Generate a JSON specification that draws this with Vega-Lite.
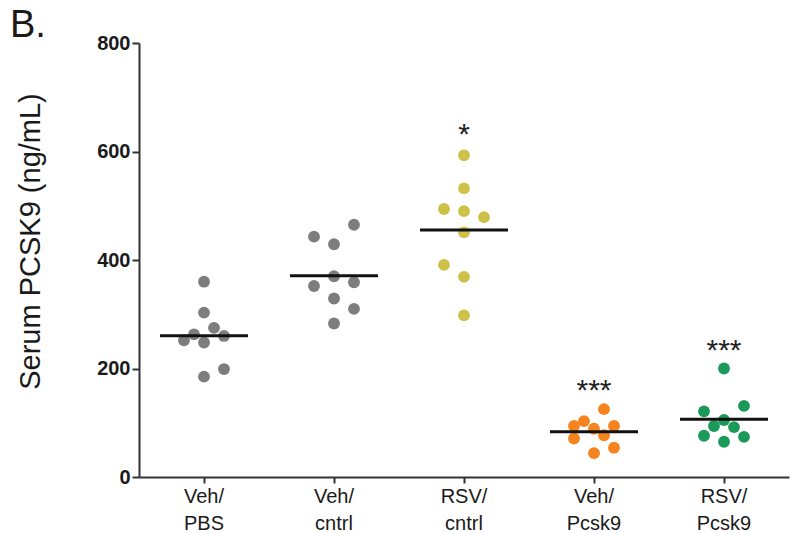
{
  "$schema": "https://vega.github.io/schema/vega-lite/v6.json",
  "width": 650,
  "height": 434,
  "autosize": {"type": "none"},
  "padding": {"left": 139, "top": 43, "right": 11, "bottom": 56},
  "background": "white",
  "config": {"view": {"stroke": null}, "font": "Liberation Sans"},
  "title": {"text": "B.", "anchor": "start", "frame": "group", "fontSize": 38, "fontWeight": "normal", "font": "Liberation Sans", "color": "#1a1a1a", "baseline": "alphabetic", "dx": -129, "dy": 42, "offset": 0},
  "datasets": {
    "pts": [
      {"g": "Veh/ PBS", "v": 360, "j": 0},
      {"g": "Veh/ PBS", "v": 303, "j": 0},
      {"g": "Veh/ PBS", "v": 275, "j": 1},
      {"g": "Veh/ PBS", "v": 263, "j": -1},
      {"g": "Veh/ PBS", "v": 260, "j": 2},
      {"g": "Veh/ PBS", "v": 252, "j": -2},
      {"g": "Veh/ PBS", "v": 248, "j": 0},
      {"g": "Veh/ PBS", "v": 199, "j": 2},
      {"g": "Veh/ PBS", "v": 185, "j": 0},
      {"g": "Veh/ cntrl", "v": 465, "j": 2},
      {"g": "Veh/ cntrl", "v": 443, "j": -2},
      {"g": "Veh/ cntrl", "v": 429, "j": 0},
      {"g": "Veh/ cntrl", "v": 370, "j": 0},
      {"g": "Veh/ cntrl", "v": 352, "j": -2},
      {"g": "Veh/ cntrl", "v": 359, "j": 2},
      {"g": "Veh/ cntrl", "v": 329, "j": 0},
      {"g": "Veh/ cntrl", "v": 310, "j": 2},
      {"g": "Veh/ cntrl", "v": 283, "j": 0},
      {"g": "RSV/ cntrl", "v": 593, "j": 0},
      {"g": "RSV/ cntrl", "v": 532, "j": 0},
      {"g": "RSV/ cntrl", "v": 494, "j": -2},
      {"g": "RSV/ cntrl", "v": 490, "j": 0},
      {"g": "RSV/ cntrl", "v": 479, "j": 2},
      {"g": "RSV/ cntrl", "v": 451, "j": 0},
      {"g": "RSV/ cntrl", "v": 391, "j": -2},
      {"g": "RSV/ cntrl", "v": 369, "j": 0},
      {"g": "RSV/ cntrl", "v": 298, "j": 0},
      {"g": "Veh/ Pcsk9", "v": 125, "j": 1},
      {"g": "Veh/ Pcsk9", "v": 103, "j": -1},
      {"g": "Veh/ Pcsk9", "v": 94, "j": -2},
      {"g": "Veh/ Pcsk9", "v": 89, "j": 0},
      {"g": "Veh/ Pcsk9", "v": 94, "j": 2},
      {"g": "Veh/ Pcsk9", "v": 77, "j": 1},
      {"g": "Veh/ Pcsk9", "v": 71, "j": -2},
      {"g": "Veh/ Pcsk9", "v": 54, "j": 2},
      {"g": "Veh/ Pcsk9", "v": 44, "j": 0},
      {"g": "RSV/ Pcsk9", "v": 200, "j": 0},
      {"g": "RSV/ Pcsk9", "v": 131, "j": 2},
      {"g": "RSV/ Pcsk9", "v": 121, "j": -2},
      {"g": "RSV/ Pcsk9", "v": 105, "j": 0},
      {"g": "RSV/ Pcsk9", "v": 94, "j": -1},
      {"g": "RSV/ Pcsk9", "v": 92, "j": 1},
      {"g": "RSV/ Pcsk9", "v": 76, "j": -2},
      {"g": "RSV/ Pcsk9", "v": 74, "j": 2},
      {"g": "RSV/ Pcsk9", "v": 65, "j": 0}
    ],
    "stars": [
      {"g": "RSV/ cntrl", "y": 613, "t": "*"},
      {"g": "Veh/ Pcsk9", "y": 142, "t": "***"},
      {"g": "RSV/ Pcsk9", "y": 216, "t": "***"}
    ]
  },
  "encoding": {
    "x": {
      "field": "g", "type": "nominal",
      "sort": ["Veh/ PBS", "Veh/ cntrl", "RSV/ cntrl", "Veh/ Pcsk9", "RSV/ Pcsk9"],
      "scale": {"paddingInner": 0, "paddingOuter": 0},
      "axis": {
        "title": null, "labelAngle": 0, "labelExpr": "split(datum.value, ' ')",
        "labelFontSize": 20, "labelFont": "Liberation Sans", "labelColor": "#1a1a1a",
        "labelLineHeight": 27, "labelPadding": 3, "labelBaseline": "top",
        "tickSize": 6, "tickWidth": 2, "tickColor": "#333333",
        "domainColor": "#333333", "domainWidth": 2
      }
    }
  },
  "layer": [
    {
      "data": {"name": "pts"},
      "mark": {"type": "circle", "size": 140, "opacity": 1},
      "encoding": {
        "y": {
          "field": "v", "type": "quantitative",
          "scale": {"domain": [0, 800], "nice": false},
          "axis": {
            "values": [0, 200, 400, 600, 800], "grid": false,
            "title": "Serum PCSK9 (ng/mL)", "titleFontSize": 29, "titleFontWeight": "normal",
            "titleFont": "Liberation Sans", "titleColor": "#1a1a1a",
            "titleAngle": 270, "titleAlign": "center", "titleBaseline": "middle",
            "titleX": -109, "titleY": 198,
            "labelFontSize": 20, "labelFontWeight": "bold", "labelFont": "Liberation Sans",
            "labelColor": "#1a1a1a", "labelPadding": 2,
            "tickSize": 7, "tickWidth": 2, "tickColor": "#333333",
            "domainColor": "#333333", "domainWidth": 2
          }
        },
        "xOffset": {"field": "j", "type": "quantitative", "scale": {"domain": [-6.5, 6.5]}},
        "color": {
          "field": "g", "type": "nominal", "legend": null,
          "scale": {
            "domain": ["Veh/ PBS", "Veh/ cntrl", "RSV/ cntrl", "Veh/ Pcsk9", "RSV/ Pcsk9"],
            "range": ["#7d7d7d", "#7d7d7d", "#cdc14a", "#f5841f", "#1b9958"]
          }
        }
      }
    },
    {
      "data": {"name": "pts"},
      "mark": {"type": "tick", "orient": "horizontal", "size": 88, "thickness": 3, "color": "#111111"},
      "encoding": {
        "y": {"aggregate": "mean", "field": "v", "type": "quantitative"}
      }
    },
    {
      "data": {"name": "stars"},
      "mark": {"type": "text", "fontSize": 30, "font": "Liberation Sans", "color": "#222222", "baseline": "alphabetic"},
      "encoding": {
        "y": {"field": "y", "type": "quantitative"},
        "text": {"field": "t"}
      }
    }
  ]
}
